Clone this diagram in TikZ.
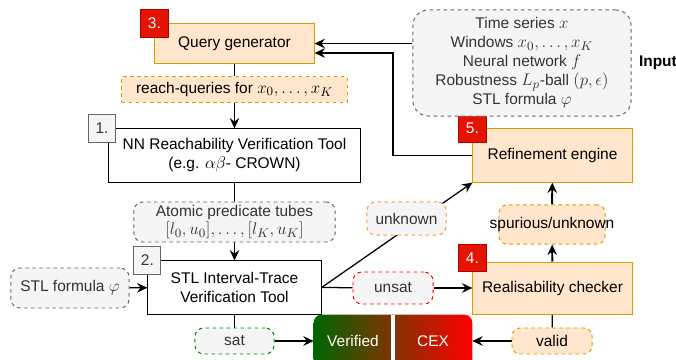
\documentclass[tikz,border=0pt]{standalone}
\usepackage{amssymb}
\usepackage{amsmath}
\usepackage{xcolor}
\usepackage{fontspec}
\setmainfont{Liberation Sans}
\DeclareMathSizes{11}{12.5}{9}{7}
\usepackage{tikz}
\usetikzlibrary{positioning,arrows.meta,backgrounds}

\definecolor{orfill}{HTML}{FFE6CC}
\definecolor{ordraw}{HTML}{D79B00}
\definecolor{grfill}{HTML}{F5F5F5}
\definecolor{grdraw}{HTML}{666666}
\definecolor{grtext}{HTML}{333333}
\definecolor{badgefill}{HTML}{E51400}
\definecolor{badgedraw}{HTML}{B20000}
\definecolor{unkdraw}{HTML}{FF9933}
\definecolor{satdraw}{HTML}{008000}
\definecolor{verdgreen}{HTML}{006600}

\begin{document}
\begin{tikzpicture}[x=0.025cm, y=-0.025cm, font=\fontsize{11}{13.5}\selectfont,
	box/.style={draw, line width=0.7pt, inner sep=0pt, align=center},
	tool/.style={box, fill=white},
	engine/.style={box, draw=ordraw, fill=orfill},
	dashbox/.style={box, dash pattern=on 2.5pt off 2.5pt},
	querytag/.style={dashbox, draw=ordraw, fill=orfill},
	ortag/.style={querytag, rounded corners=0.2cm},
	greytag/.style={dashbox, rounded corners=0.22cm, draw=grdraw, fill=grfill, text=grtext},
	badge/.style={box, draw=badgedraw, fill=badgefill, text=white, minimum size=0.68cm},
	greybadge/.style={box, draw=grdraw, fill=grfill, text=grtext, minimum size=0.68cm},
	link/.style={line width=0.9pt},
	arrow/.style={link, -{Stealth[length=2.6mm, width=2.4mm, inset=0.9mm]}},
	bigarrow/.style={arrow, line width=1.4pt},
	]
	\useasboundingbox (0,0) rectangle (676,360);
	\clip (0,0) rectangle (676,360);

	\node[engine, minimum width=3.98cm, minimum height=0.98cm] (qgen) at (234.5,43.5) {Query generator};
	\node[badge] (b3) at (qgen.north west) {3.};
	\node[querytag, minimum width=5.63cm, minimum height=0.63cm] (reach) at (234.5,89.5) {reach-queries for $x_0,\dots,x_K$};
	\node[tool, minimum width=6.28cm, minimum height=1.33cm] (nn) at (234.5,155.5) {NN Reachability Verification Tool\\(e.g. $\alpha\beta$- CROWN)};
	\node[greybadge, xshift=-0.16cm] (b1) at (nn.north west) {1.};
	\node[greytag, minimum width=5.03cm, minimum height=1cm] (tubes) at (234.5,222) {Atomic predicate tubes\\$[l_0,u_0],\dots,[l_K,u_K]$};
	\node[tool, minimum width=4.33cm, minimum height=1.33cm] (stl) at (234.5,287.5) {STL Interval-Trace\\Verification Tool};
	\node[greybadge] (b2) at (stl.north west) {2.};
	\node[greytag, minimum width=2.95cm, minimum height=1cm] (phi) at (70,288) {STL formula $\varphi$};
	\node[greytag, draw=satdraw, minimum width=1.98cm, minimum height=0.65cm] (sat) at (234.5,341) {sat};

	\node[inner sep=0pt, minimum width=3.95cm, minimum height=1.13cm] (verdict) at (393,337.5) {};
	\shade[left color=verdgreen, right color=red] (verdict.south west) [rounded corners=0.2cm] -- (verdict.north west) -- (verdict.north east) [sharp corners] -- (verdict.south east) -- cycle;
	\draw[white, line width=2.5pt] (verdict.north) -- (verdict.south);
	\node[text=white] (verified) at (353,341) {Verified};
	\node[text=white] (cex) at (433,341) {CEX};

	\node[engine, minimum width=3.98cm, minimum height=1.33cm] (ref) at (552.5,155.5) {Refinement engine};
	\node[badge] (b5) at (ref.north west) {5.};
	\node[ortag, minimum width=2.65cm, minimum height=0.98cm] (spur) at (552,224.5) {\makebox[0pt]{spurious/unknown}};
	\node[engine, minimum width=3.98cm, minimum height=1.3cm] (real) at (552.5,288) {Realisability checker};
	\node[badge, yshift=0.09cm] (b4) at (real.north west) {4.};
	\node[ortag, minimum width=2cm, minimum height=0.65cm] (valid) at (552,341) {valid};
	\node[greytag, draw=red, minimum width=2cm, minimum height=0.8cm] (unsat) at (393,288) {unsat};
	\node[greytag, draw=unkdraw, minimum width=1.98cm, minimum height=0.83cm] (unknown) at (406.5,218.5) {unknown};

	\node[greytag, rounded corners=0.38cm, minimum width=5.45cm, minimum height=2.65cm] (input) at (522,63) {Time series $x$\\Windows $x_0,\dots,x_K$\\Neural network $f$\\Robustness $L_p$-ball $(p,\epsilon)$\\STL formula $\varphi$};
	\node[right=0.18cm of input, inner sep=0pt] (inlabel) {\textbf{Input}};
	\coordinate (bend) at (393,53);

	\begin{pgfonlayer}{background}
		\draw[link] (qgen) -- (reach);
		\draw[arrow] (reach) -- (nn);
		\draw[link] (nn) -- (tubes);
		\draw[arrow] (tubes) -- (stl);
		\draw[arrow] (phi) -- (stl);
		\draw[link] (stl) -- (sat);
		\draw[arrow] (sat) -- (sat -| verdict.west);
		\draw[link] (stl.east) -- (unsat);
		\draw[arrow] (unsat) -- (real);
		\draw[arrow] (stl.east) -- (ref.south west);
		\draw[bigarrow] (real) -- (spur);
		\draw[bigarrow] (spur) -- (ref);
		\draw[link] (real) -- (valid);
		\draw[arrow] (valid) -- (valid -| verdict.east);
		\draw[arrow] (qgen.east -| input.west) -- (qgen.east);
		\draw[arrow] (ref.west) -| (bend) -- (bend -| qgen.east);
	\end{pgfonlayer}
\end{tikzpicture}
\end{document}
